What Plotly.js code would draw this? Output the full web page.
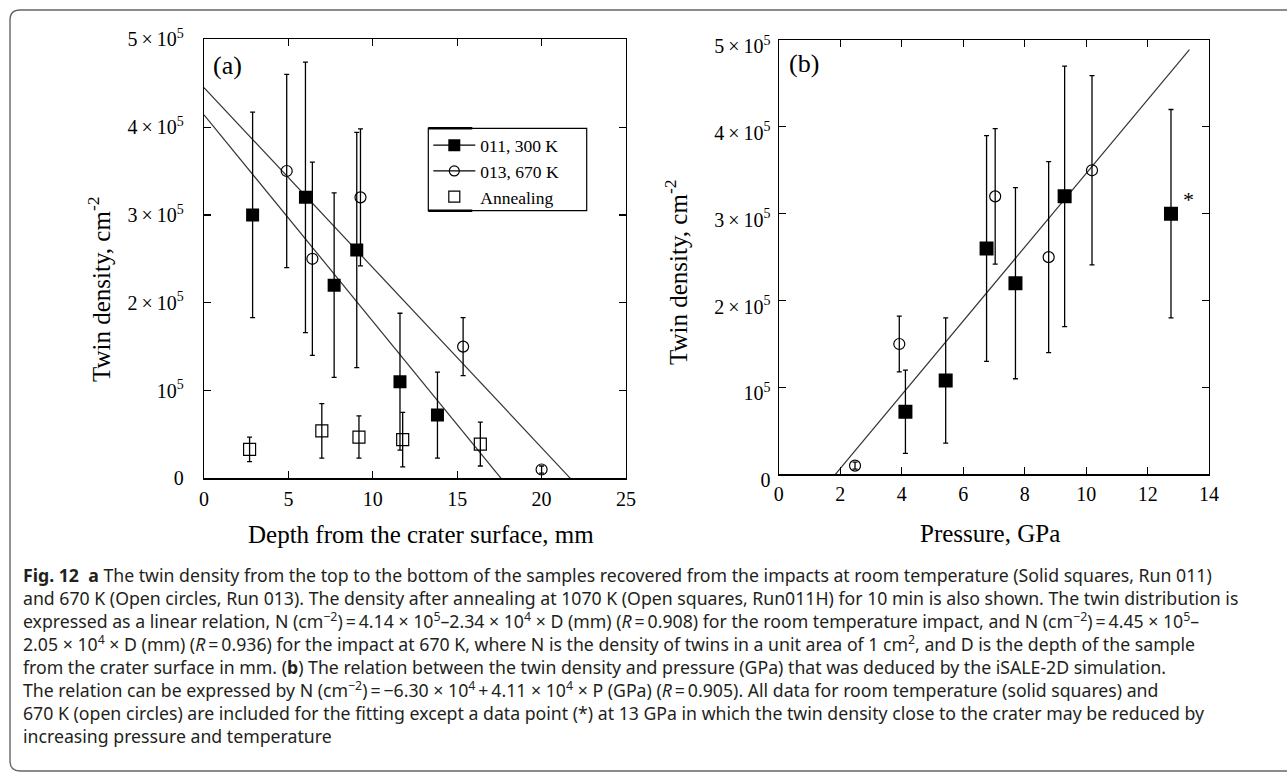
<!DOCTYPE html>
<html><head><meta charset="utf-8">
<script src="https://cdn.plot.ly/plotly-3.0.1.min.js"></script>
<style>html,body{margin:0;padding:0;background:#fff}#chart{width:1287px;height:772px}</style>
</head><body><div id="chart"></div>
<script>
// ---------- Panel (a): twin density vs depth ----------
const depthSolid  = [2.88, 6.01, 7.71, 9.05, 11.61, 13.83];
const densSolidA  = [3.0e5, 3.2e5, 2.2e5, 2.6e5, 1.1e5, 0.72e5];
const errSolidA   = [1.17e5, 1.54e5, 1.05e5, 1.34e5, 0.78e5, 0.49e5];
const depthOpen   = [4.90, 6.42, 9.27, 15.35, 20.0];
const densOpenA   = [3.5e5, 2.5e5, 3.2e5, 1.5e5, 0.1e5];
const errOpenA    = [1.1e5, 1.1e5, 0.78e5, 0.33e5, 0.04e5];
const depthAnneal = [2.70, 6.98, 9.18, 11.77, 16.37];
const densAnneal  = [0.33e5, 0.54e5, 0.47e5, 0.44e5, 0.39e5];
const errAnneal   = [0.14e5, 0.31e5, 0.24e5, 0.31e5, 0.25e5];
const fitRT_x  = [0, 17.6];
const fitRT_y  = [4.14e5, 0];
const fit670_x = [0, 21.7];
const fit670_y = [4.45e5, 0];
// ---------- Panel (b): twin density vs pressure ----------
const presSolid  = [4.12, 5.43, 6.76, 7.70, 9.30, 12.76];
const densSolidB = [0.72e5, 1.08e5, 2.6e5, 2.2e5, 3.2e5, 3.0e5];
const errSolidB  = [0.48e5, 0.72e5, 1.3e5, 1.1e5, 1.5e5, 1.2e5];
const presOpen   = [2.48, 3.92, 7.04, 8.78, 10.19];
const densOpenB  = [0.1e5, 1.5e5, 3.2e5, 2.5e5, 3.5e5];
const errOpenB   = [0.04e5, 0.32e5, 0.78e5, 1.1e5, 1.09e5];
const fitP_x = [1.84, 13.36];
const fitP_y = [0, 4.89e5];
// ---------- Tick labels / texts ----------
const yTickVals = [0, 1e5, 2e5, 3e5, 4e5, 5e5];
const yTickText = ['0', '10<sup>5</sup>', '2\u2009×\u200910<sup>5</sup>', '3\u2009×\u200910<sup>5</sup>', '4\u2009×\u200910<sup>5</sup>', '5\u2009×\u200910<sup>5</sup>'];
const xTickValsA = [0, 5, 10, 15, 20, 25];
const xTickValsB = [0, 2, 4, 6, 8, 10, 12, 14];
const legendNames = ['011, 300 K', '013, 670 K', 'Annealing'];
const captionLines = [
  '<b>Fig. 12  a</b> The twin density from the top to the bottom of the samples recovered from the impacts at room temperature (Solid squares, Run 011)',
  'and 670 K (Open circles, Run 013). The density after annealing at 1070 K (Open squares, Run011H) for 10 min is also shown. The twin distribution is',
  'expressed as a linear relation, N (cm<sup>−2</sup>)\u2009=\u20094.14 × 10<sup>5</sup>–2.34 × 10<sup>4</sup> × D (mm) (<i>R</i>\u2009=\u20090.908) for the room temperature impact, and N (cm<sup>−2</sup>)\u2009=\u20094.45 × 10<sup>5</sup>–',
  '2.05 × 10<sup>4</sup> × D (mm) (<i>R</i>\u2009=\u20090.936) for the impact at 670 K, where N is the density of twins in a unit area of 1 cm<sup>2</sup>, and D is the depth of the sample',
  'from the crater surface in mm. (<b>b</b>) The relation between the twin density and pressure (GPa) that was deduced by the iSALE-2D simulation.',
  'The relation can be expressed by N (cm<sup>−2</sup>)\u2009=\u2009−6.30 × 10<sup>4</sup>\u2009+\u20094.11 × 10<sup>4</sup> × P (GPa) (<i>R</i>\u2009=\u20090.905). All data for room temperature (solid squares) and',
  '670 K (open circles) are included for the fitting except a data point (*) at 13 GPa in which the twin density close to the crater may be reduced by',
  'increasing pressure and temperature'
];

const W = 1287, H = 772;
const px = v => v / W;
const py = v => 1 - v / H;
const SERIF = 'Liberation Serif, Times New Roman, serif';
const SANS = 'Noto Sans, Open Sans, sans-serif';

const errStyle = arr => ({type: 'data', array: arr, visible: true, color: '#000', thickness: 1.3, width: 2.5});
const solidMk = s => ({symbol: 'square', size: s, color: '#000', line: {width: 0}});
const circMk = s => ({symbol: 'circle-open', size: s, color: '#000', line: {width: 1.2, color: '#000'}});
const sqOpenMk = s => ({symbol: 'square-open', size: s, color: '#000', line: {width: 1.2, color: '#000'}});
const fitLine = {color: '#333', width: 1.2};

const traces = [
  {x: fitRT_x, y: fitRT_y, mode: 'lines', line: fitLine, xaxis: 'x', yaxis: 'y', showlegend: false, hoverinfo: 'skip'},
  {x: fit670_x, y: fit670_y, mode: 'lines', line: fitLine, xaxis: 'x', yaxis: 'y', showlegend: false, hoverinfo: 'skip'},
  {x: depthSolid, y: densSolidA, mode: 'markers', marker: solidMk(13), error_y: errStyle(errSolidA), xaxis: 'x', yaxis: 'y', showlegend: false},
  {x: depthOpen, y: densOpenA, mode: 'markers', marker: circMk(11), error_y: errStyle(errOpenA), xaxis: 'x', yaxis: 'y', showlegend: false},
  {x: depthAnneal, y: densAnneal, mode: 'markers', marker: sqOpenMk(12), error_y: errStyle(errAnneal), xaxis: 'x', yaxis: 'y', showlegend: false},
  {x: fitP_x, y: fitP_y, mode: 'lines', line: fitLine, xaxis: 'x2', yaxis: 'y2', showlegend: false, hoverinfo: 'skip'},
  {x: presSolid, y: densSolidB, mode: 'markers', marker: solidMk(14), error_y: errStyle(errSolidB), xaxis: 'x2', yaxis: 'y2', showlegend: false},
  {x: presOpen, y: densOpenB, mode: 'markers', marker: circMk(11), error_y: errStyle(errOpenB), xaxis: 'x2', yaxis: 'y2', showlegend: false},
  // legend entries
  {x: [null], y: [null], name: legendNames[0], mode: 'lines+markers', line: {color: '#000', width: 1.2}, marker: solidMk(12), xaxis: 'x', yaxis: 'y'},
  {x: [null], y: [null], name: legendNames[1], mode: 'lines+markers', line: {color: '#000', width: 1.2}, marker: circMk(10), xaxis: 'x', yaxis: 'y'},
  {x: [null], y: [null], name: legendNames[2], mode: 'markers', marker: sqOpenMk(11), xaxis: 'x', yaxis: 'y'}
];

const axBase = {
  showline: true, linecolor: '#000', linewidth: 1.2, mirror: 'ticks',
  ticks: 'inside', ticklen: 7, tickwidth: 1.2, tickcolor: '#000',
  showgrid: false, zeroline: false, fixedrange: true,
  tickfont: {family: SERIF, size: 20, color: '#000'}
};

const ann = (text, x, y, size, extra) => Object.assign({
  text: text, x: px(x), y: py(y), xref: 'paper', yref: 'paper', xanchor: 'center', yanchor: 'middle',
  showarrow: false, font: {family: SERIF, size: size, color: '#000'}
}, extra || {});

const annotations = [
  ann('(a)', 227, 66, 26),
  ann('(b)', 803.6, 64, 26),
  ann('*', 1188.5, 199, 22),
  ann('Twin density, cm<sup>-2</sup>', 99, 289, 25, {textangle: -90}),
  ann('Twin density, cm<sup>-2</sup>', 676, 272, 25, {textangle: -90}),
  ann('Depth from the crater surface, mm', 421, 534, 25),
  ann('Pressure, GPa', 990, 533, 25),
  {text: captionLines.join('<br>'), x: px(21), y: py(561), xref: 'paper', yref: 'paper', xanchor: 'left', yanchor: 'top',
    showarrow: false, align: 'left', font: {family: SANS, size: 17.7, color: '#231f20'}}
];

const P = (x, y) => px(x) + ',' + py(y);
const framePath = 'M' + P(1295, 10) + ' L' + P(20, 10) + ' Q' + P(10, 10) + ' ' + P(10, 20) +
  ' L' + P(10, 761) + ' Q' + P(10, 771) + ' ' + P(20, 771) + ' L' + P(1295, 771);

const legL = 428.3, legR = 586.7, legT = 128.3, legB = 210.7;

const layout = {
  width: W, height: H,
  margin: {l: 0, r: 0, t: 0, b: 0},
  paper_bgcolor: '#fff', plot_bgcolor: '#fff',
  font: {family: SERIF, color: '#000'},
  xaxis: Object.assign({}, axBase, {domain: [px(204), px(626)], range: [0, 25], anchor: 'y', tickvals: xTickValsA, ticklabelstandoff: 2}),
  yaxis: Object.assign({}, axBase, {domain: [py(478.3), py(39.3)], range: [0, 5e5], anchor: 'x', tickvals: yTickVals, ticktext: yTickText, ticklabelstandoff: 15}),
  xaxis2: Object.assign({}, axBase, {domain: [px(778.8), px(1209.1)], range: [0, 14], anchor: 'y2', tickvals: xTickValsB, ticklabelstandoff: 1}),
  yaxis2: Object.assign({}, axBase, {domain: [py(474.3), py(40)], range: [0, 5e5], anchor: 'x2', tickvals: yTickVals, ticktext: yTickText, ticklabelstandoff: 3, ticklabelshift: 6}),
  showlegend: true,
  legend: {x: px(legL), y: py(legT - 1), xanchor: 'left', yanchor: 'top', bgcolor: 'rgba(0,0,0,0)', borderwidth: 0,
    font: {family: SERIF, size: 17.5, color: '#000'}, itemwidth: 42, tracegroupgap: 0},
  annotations: annotations,
  shapes: [
    {type: 'path', xref: 'paper', yref: 'paper', path: framePath, line: {color: '#666', width: 1.4}},
    {type: 'rect', xref: 'paper', yref: 'paper', x0: px(legL), x1: px(legR), y0: py(legB), y1: py(legT), line: {color: '#000', width: 1.2}},
    {type: 'line', xref: 'paper', yref: 'paper', x0: px(legL), x1: px(legL + 44), y0: py(legT), y1: py(legT), line: {color: '#000', width: 2.6}},
    {type: 'line', xref: 'paper', yref: 'paper', x0: px(legL), x1: px(legL + 44), y0: py(legB), y1: py(legB), line: {color: '#000', width: 2.6}}
  ]
};

Plotly.newPlot('chart', traces, layout, {staticPlot: true, displayModeBar: false});
</script>
</body></html>
